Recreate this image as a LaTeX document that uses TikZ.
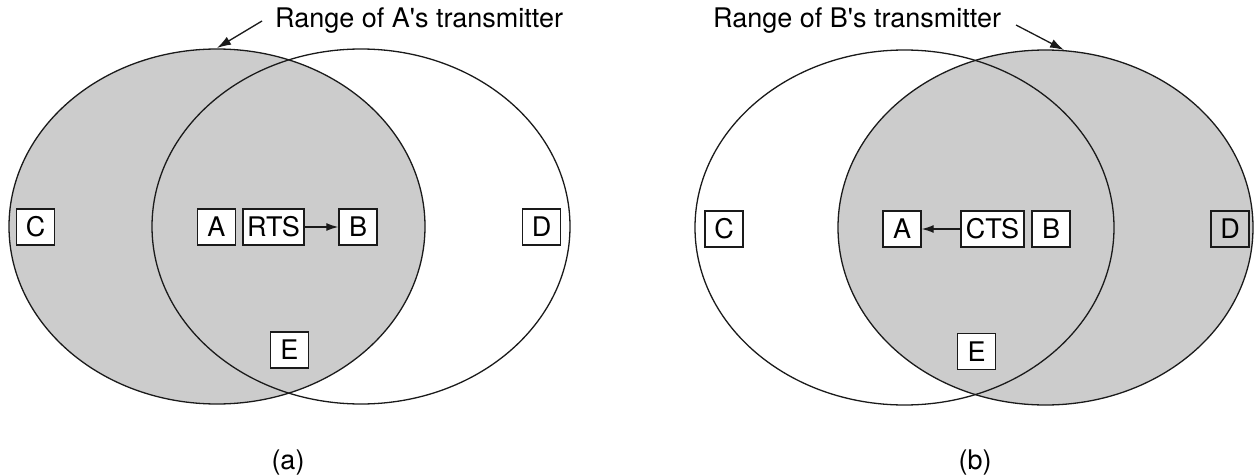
\documentclass[tikz,border=0pt]{standalone}
\usepackage{fontspec}
\setmainfont{TeX Gyre Heros}
\usetikzlibrary{arrows.meta}
\definecolor{rangegray}{HTML}{CCCCCC}
\definecolor{ink}{HTML}{1A1A1A}
\tikzset{
  rangeline/.style={draw=ink, line width=1.3pt},
  rangefill/.style={fill=rangegray},
  stationbox/.style={draw=ink, line width=1.4pt, fill=white, rectangle,
    minimum width=38pt, minimum height=36pt, inner sep=3.5pt,
    text height=19.4pt, text depth=0pt, font=\fontsize{27}{30}\selectfont},
  framebox/.style={stationbox, fill=none},
  msgarrow/.style={draw=ink, line width=1.3pt, -{Latex[length=12pt,width=8pt]}},
  labelarrow/.style={draw=ink, line width=1.3pt, -{Latex[length=14pt,width=9pt]}},
  caption/.style={font=\fontsize{27}{30}\selectfont, inner sep=0pt},
}
\begin{document}
\begin{tikzpicture}[x=1pt,y=-1pt]
\useasboundingbox (0,0) rectangle (1255,476);
% ---------- (a) ----------
\path[rangefill] (217,226.5) ellipse [x radius=208pt, y radius=177.5pt];
\draw[rangeline] (217,226.5) ellipse [x radius=208pt, y radius=177.5pt];
\draw[rangeline] (361,226.5) ellipse [x radius=209pt, y radius=177.5pt];
\node[stationbox] (aC) at (35.5,227) {C};
\node[stationbox] (aA) at (216.5,227) {A};
\node[stationbox, minimum width=61pt] (aRTS) at (273.5,227) {RTS};
\node[stationbox] (aB) at (358,227) {B};
\node[stationbox] (aD) at (541.5,227) {D};
\node[stationbox] (aE) at (289.5,350) {E};
\draw[msgarrow] (aRTS.east) -- (aB.west);
\node[caption, anchor=base west] (aLabel) at (275,28) {Range of A\textquotesingle s transmitter};
\coordinate (aStart) at (262,21);
\coordinate (aTip) at (217,48);
\draw[labelarrow] (aStart) -- (aTip);
\node[caption] (capA) at (288,463) {(a)};
% ---------- (b) ----------
\path[rangefill] (1045.5,227.5) ellipse [x radius=207.5pt, y radius=177.5pt];
\draw[rangeline] (904.5,227.5) ellipse [x radius=209.5pt, y radius=177.5pt];
\draw[rangeline] (1045.5,227.5) ellipse [x radius=207.5pt, y radius=177.5pt];
\node[stationbox] (bC) at (724,229) {C};
\node[stationbox] (bA) at (902,229) {A};
\node[stationbox, minimum width=63pt] (bCTS) at (992.5,229) {CTS};
\node[stationbox] (bB) at (1051,229) {B};
\node[framebox] (bD) at (1230,229) {D};
\node[stationbox] (bE) at (976.5,351.5) {E};
\draw[msgarrow] (bCTS.west) -- (bA.east);
\node[caption, anchor=base west] (bLabel) at (713,28) {Range of B\textquotesingle s transmitter};
\coordinate (bStart) at (1016,25);
\coordinate (bTip) at (1064,50);
\draw[labelarrow] (bStart) -- (bTip);
\node[caption] (capB) at (975,463) {(b)};
\end{tikzpicture}
\end{document}
